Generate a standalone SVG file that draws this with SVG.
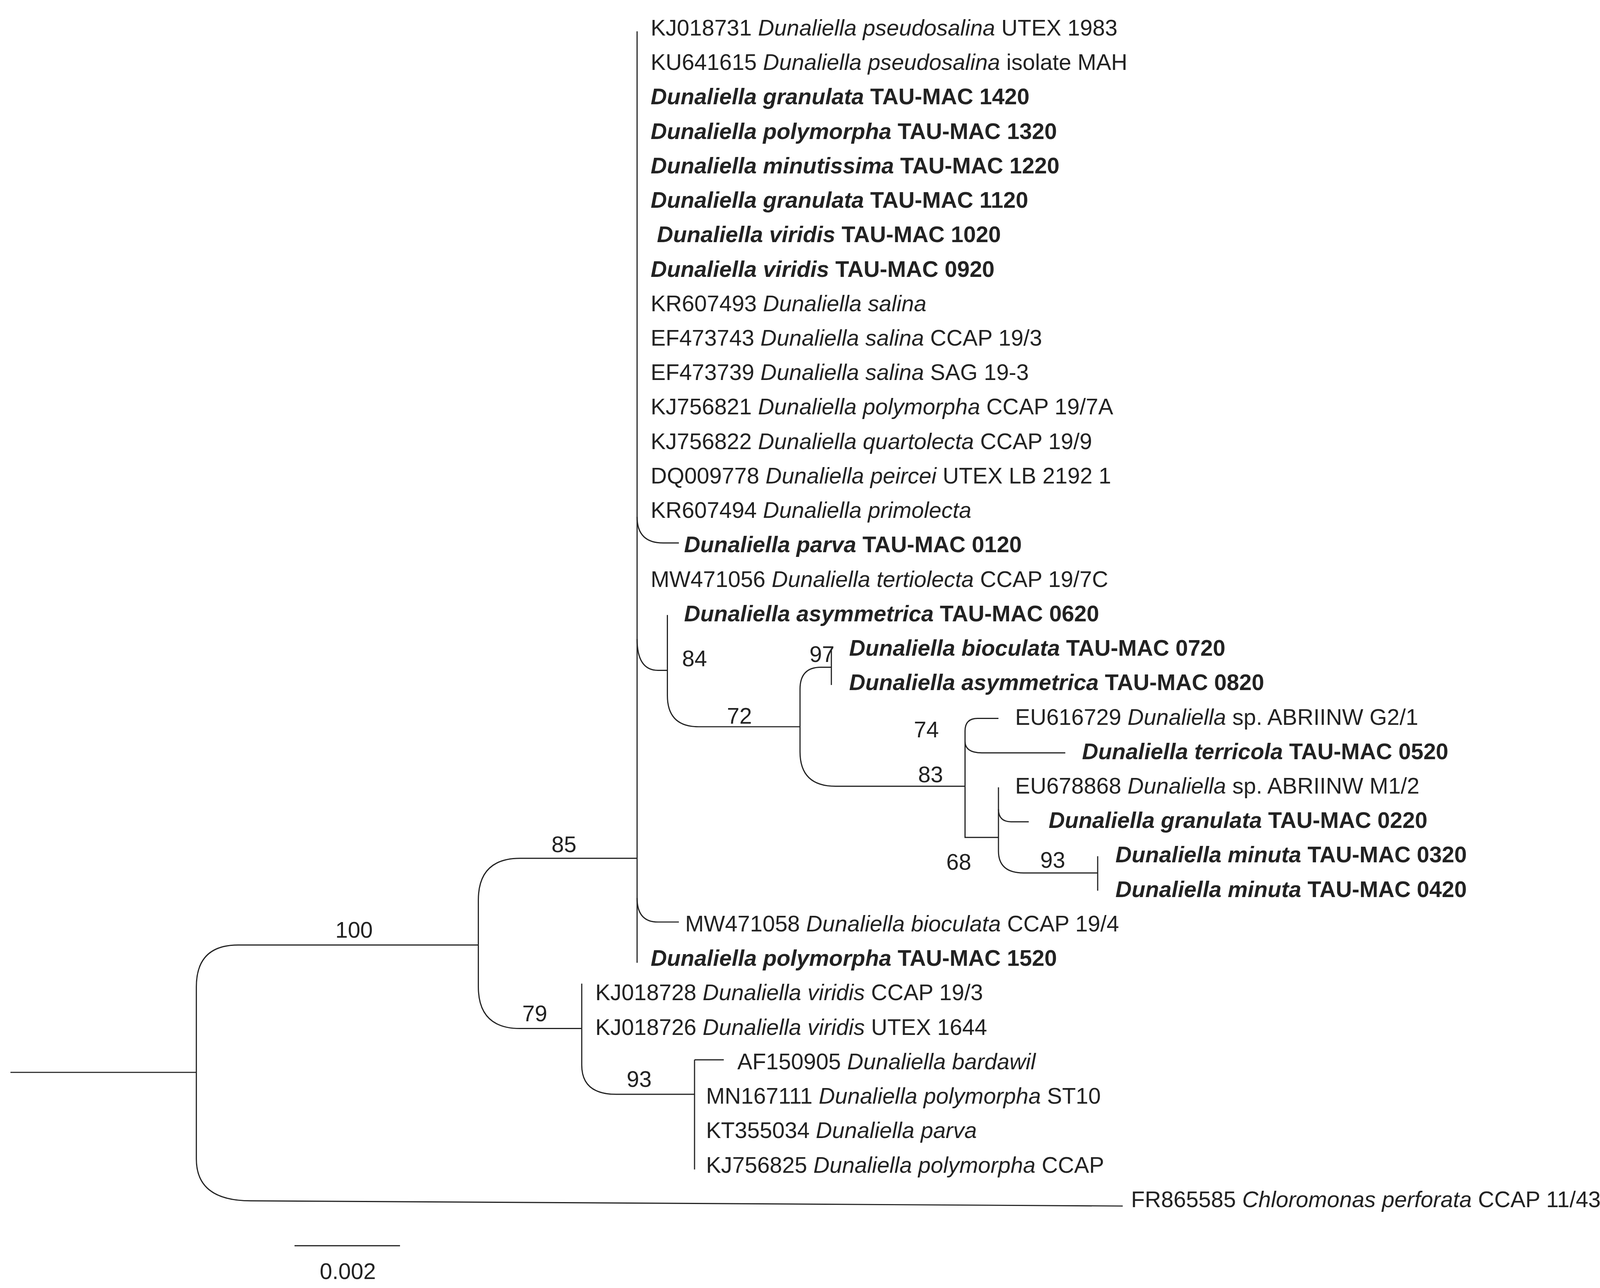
<svg xmlns="http://www.w3.org/2000/svg" width="4179" height="3298" viewBox="0 0 4179 3298">
<style>
text{font-family:"Liberation Sans",Arial,sans-serif;font-size:21.5px;fill:#222}
.b{font-weight:bold}
.i{font-style:italic}
.n{text-anchor:middle}
#edges path{fill:none;stroke:#222;stroke-width:1.1}
</style>
<rect width="4179" height="3298" fill="#fff"/>
<g transform="scale(2.6737)">
<g id="edges">
<path d="M10 1027H188"/>
<path d="M188 1027V945Q188 905 228 905H458"/>
<path d="M188 1027V1110Q188 1150 240 1150L1075 1155"/>
<path d="M458 905V862Q458 822 498 822H610"/>
<path d="M458 905V945Q458 985 498 985H557"/>
<path d="M610 30V922"/>
<path d="M610 495Q610 520 635 520H650"/>
<path d="M610 612Q610 642 630 642H639"/>
<path d="M639 589V666Q639 696 669 696H766"/>
<path d="M766 696V660Q766 639 786 639H796"/>
<path d="M766 696V720Q766 753 800 753H924"/>
<path d="M796 621V656"/>
<path d="M924 753V700Q924 688 936 688H956"/>
<path d="M924 710Q924 721 940 721H1020"/>
<path d="M924 753V802H956"/>
<path d="M956 754V815Q956 836 980 836H1051"/>
<path d="M956 775Q956 787 968 787H985"/>
<path d="M1051 820V853"/>
<path d="M610 860Q610 883 630 883H650"/>
<path d="M557 985V942"/>
<path d="M557 985V1020Q557 1048 590 1048H665"/>
<path d="M665 1015V1120"/>
<path d="M665 1015H693"/>
<path d="M282 1193H383"/>
</g>
<g id="labels">
<text class="n" x="339" y="898">100</text>
<text class="n" x="540" y="816">85</text>
<text class="n" x="512" y="978">79</text>
<text class="n" x="612" y="1041">93</text>
<text class="n" x="665" y="638">84</text>
<text class="n" x="708" y="693">72</text>
<text class="n" x="787" y="634">97</text>
<text class="n" x="887" y="706">74</text>
<text class="n" x="891" y="749">83</text>
<text class="n" x="918" y="833">68</text>
<text class="n" x="1008" y="831">93</text>
<text class="n" x="333" y="1225">0.002</text>
</g>
<g id="leaves">
<g id="l0"><text x="623" y="34">KJ018731 <tspan class="i">Dunaliella pseudosalina</tspan> UTEX 1983</text></g>
<g id="l1"><text x="623" y="67">KU641615 <tspan class="i">Dunaliella pseudosalina</tspan> isolate MAH</text></g>
<g id="l2"><text class="b" x="623" y="100"><tspan class="i">Dunaliella granulata</tspan> TAU-MAC 1420</text></g>
<g id="l3"><text class="b" x="623" y="133"><tspan class="i">Dunaliella polymorpha</tspan> TAU-MAC 1320</text></g>
<g id="l4"><text class="b" x="623" y="166"><tspan class="i">Dunaliella minutissima</tspan> TAU-MAC 1220</text></g>
<g id="l5"><text class="b" x="623" y="199"><tspan class="i">Dunaliella granulata</tspan> TAU-MAC 1120</text></g>
<g id="l6"><text class="b" x="629" y="232"><tspan class="i">Dunaliella viridis</tspan> TAU-MAC 1020</text></g>
<g id="l7"><text class="b" x="623" y="265"><tspan class="i">Dunaliella viridis</tspan> TAU-MAC 0920</text></g>
<g id="l8"><text x="623" y="298">KR607493 <tspan class="i">Dunaliella salina</tspan></text></g>
<g id="l9"><text x="623" y="331">EF473743 <tspan class="i">Dunaliella salina</tspan> CCAP 19/3</text></g>
<g id="l10"><text x="623" y="364">EF473739 <tspan class="i">Dunaliella salina</tspan> SAG 19-3</text></g>
<g id="l11"><text x="623" y="397">KJ756821 <tspan class="i">Dunaliella polymorpha</tspan> CCAP 19/7A</text></g>
<g id="l12"><text x="623" y="430">KJ756822 <tspan class="i">Dunaliella quartolecta</tspan> CCAP 19/9</text></g>
<g id="l13"><text x="623" y="463">DQ009778 <tspan class="i">Dunaliella peircei</tspan> UTEX LB 2192 1</text></g>
<g id="l14"><text x="623" y="496">KR607494 <tspan class="i">Dunaliella primolecta</tspan></text></g>
<g id="l15"><text class="b" x="655" y="529"><tspan class="i">Dunaliella parva</tspan> TAU-MAC 0120</text></g>
<g id="l16"><text x="623" y="562">MW471056 <tspan class="i">Dunaliella tertiolecta</tspan> CCAP 19/7C</text></g>
<g id="l17"><text class="b" x="655" y="595"><tspan class="i">Dunaliella asymmetrica</tspan> TAU-MAC 0620</text></g>
<g id="l18"><text class="b" x="813" y="628"><tspan class="i">Dunaliella bioculata</tspan> TAU-MAC 0720</text></g>
<g id="l19"><text class="b" x="813" y="661"><tspan class="i">Dunaliella asymmetrica</tspan> TAU-MAC 0820</text></g>
<g id="l20"><text x="972" y="694">EU616729 <tspan class="i">Dunaliella</tspan> sp. ABRIINW G2/1</text></g>
<g id="l21"><text class="b" x="1036" y="727"><tspan class="i">Dunaliella terricola</tspan> TAU-MAC 0520</text></g>
<g id="l22"><text x="972" y="760">EU678868 <tspan class="i">Dunaliella</tspan> sp. ABRIINW M1/2</text></g>
<g id="l23"><text class="b" x="1004" y="793"><tspan class="i">Dunaliella granulata</tspan> TAU-MAC 0220</text></g>
<g id="l24"><text class="b" x="1068" y="826"><tspan class="i">Dunaliella minuta</tspan> TAU-MAC 0320</text></g>
<g id="l25"><text class="b" x="1068" y="859"><tspan class="i">Dunaliella minuta</tspan> TAU-MAC 0420</text></g>
<g id="l26"><text x="656" y="892">MW471058 <tspan class="i">Dunaliella bioculata</tspan> CCAP 19/4</text></g>
<g id="l27"><text class="b" x="623" y="925"><tspan class="i">Dunaliella polymorpha</tspan> TAU-MAC 1520</text></g>
<g id="l28"><text x="570" y="958">KJ018728 <tspan class="i">Dunaliella viridis</tspan> CCAP 19/3</text></g>
<g id="l29"><text x="570" y="991">KJ018726 <tspan class="i">Dunaliella viridis</tspan> UTEX 1644</text></g>
<g id="l30"><text x="706" y="1024">AF150905 <tspan class="i">Dunaliella bardawil</tspan></text></g>
<g id="l31"><text x="676" y="1057">MN167111 <tspan class="i">Dunaliella polymorpha</tspan> ST10</text></g>
<g id="l32"><text x="676" y="1090">KT355034 <tspan class="i">Dunaliella parva</tspan></text></g>
<g id="l33"><text x="676" y="1123">KJ756825 <tspan class="i">Dunaliella polymorpha</tspan> CCAP</text></g>
<g id="l34"><text x="1083" y="1156">FR865585 <tspan class="i">Chloromonas perforata</tspan> CCAP 11/43</text></g>
</g>
</g>
</svg>
